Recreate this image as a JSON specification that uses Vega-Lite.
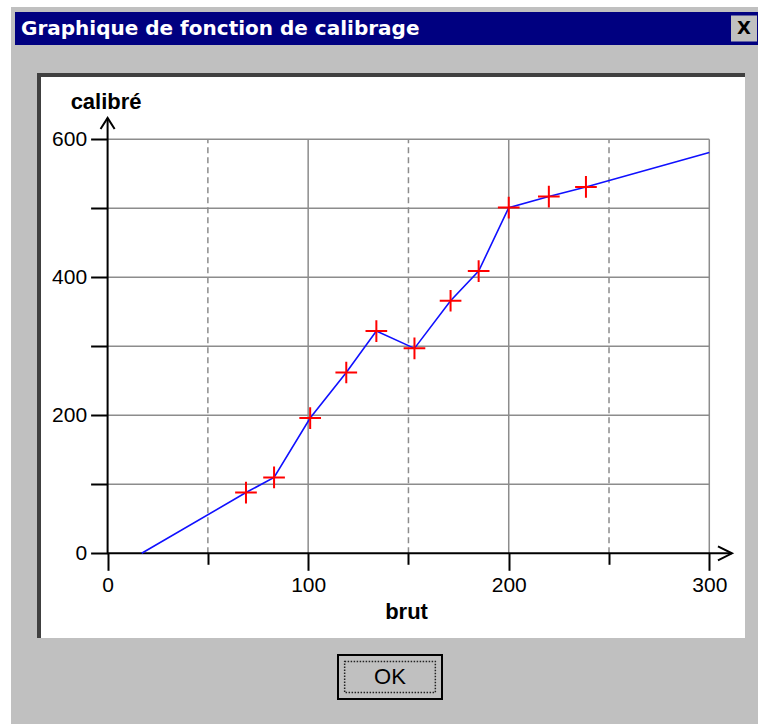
{
  "$schema": "https://vega.github.io/schema/vega-lite/v6.json",
  "padding": 0,
  "background": "#c0c0c0",
  "spacing": 0,
  "config": {"view": {"stroke": null}, "concat": {"spacing": 0}, "font": "Liberation Sans"},
  "datasets": {
    "calib": [
      {"brut": 17, "calibre": 0, "kind": "end"},
      {"brut": 69, "calibre": 88, "kind": "point"},
      {"brut": 83, "calibre": 110, "kind": "point"},
      {"brut": 101, "calibre": 196, "kind": "point"},
      {"brut": 119, "calibre": 262, "kind": "point"},
      {"brut": 134, "calibre": 322, "kind": "point"},
      {"brut": 153, "calibre": 297, "kind": "point"},
      {"brut": 171, "calibre": 366, "kind": "point"},
      {"brut": 185, "calibre": 409, "kind": "point"},
      {"brut": 200, "calibre": 501, "kind": "point"},
      {"brut": 220, "calibre": 517, "kind": "point"},
      {"brut": 238.5, "calibre": 531, "kind": "point"},
      {"brut": 300, "calibre": 581, "kind": "end"}
    ],
    "hgrid": [{"v": 100}, {"v": 200}, {"v": 300}, {"v": 400}, {"v": 500}, {"v": 600}],
    "vgridMajor": [{"v": 100}, {"v": 200}, {"v": 300}],
    "vgridMinor": [{"v": 50}, {"v": 150}, {"v": 250}],
    "one": [{"k": 1}]
  },
  "hconcat": [
    {"width": 11, "height": 724, "view": {"fill": "white"}, "data": {"values": []}, "mark": "point", "encoding": {}},
    {
      "spacing": 5,
      "vconcat": [
        {"width": 747, "height": 7, "view": {"fill": "white"}, "data": {"values": []}, "mark": "point", "encoding": {}},
        {
          "spacing": 0,
          "hconcat": [
            {"width": 4, "height": 1, "data": {"values": []}, "mark": "point", "encoding": {}},
            {
              "spacing": 28,
              "vconcat": [
                {
                  "spacing": 0,
                  "hconcat": [
                    {
                      "width": 715, "height": 33,
                      "view": {"fill": "#000080"},
                      "data": {"values": [{"label": "Graphique de fonction de calibrage"}]},
                      "mark": {"type": "text", "align": "left", "baseline": "middle", "dx": 6, "color": "white", "font": "DejaVu Sans", "fontSize": 20, "fontWeight": "bold"},
                      "encoding": {
                        "text": {"field": "label"},
                        "x": {"datum": 0, "type": "quantitative", "scale": {"domain": [0, 1]}, "axis": null}
                      }
                    },
                    {
                      "width": 28, "height": 33,
                      "view": {"fill": "#000080"},
                      "data": {"values": [{"label": "X"}]},
                      "layer": [
                        {"mark": {"type": "point", "shape": "square", "size": 676, "filled": true, "color": "#c0c0c0", "opacity": 1}, "encoding": {}},
                        {"mark": {"type": "text", "font": "DejaVu Sans", "fontSize": 18, "fontWeight": "bold", "color": "black", "baseline": "middle", "align": "center"}, "encoding": {"text": {"field": "label"}}}
                      ]
                    }
                  ]
                },
                {
                  "spacing": 14,
                  "vconcat": [
                    {
                      "spacing": 0,
                      "hconcat": [
                        {"width": 22, "height": 1, "data": {"values": []}, "mark": "point", "encoding": {}},
                        {
                          "width": 706, "height": 563,
                          "view": {"fill": "white", "stroke": "#404040", "strokeWidth": 4, "strokeDash": [706, 1269, 563]},
                          "resolve": {"axis": {"x": "independent", "y": "independent"}},
                          "layer": [
                            {
                              "data": {"name": "hgrid"},
                              "mark": {"type": "rule", "color": "#8c8c8c", "strokeWidth": 1.5},
                              "encoding": {
                                "y": {"field": "v", "type": "quantitative", "scale": {"domain": [-122.8, 693.2], "nice": false, "zero": false}, "axis": null},
                                "x": {"datum": 0, "type": "quantitative", "scale": {"domain": [-34.2, 317.8], "nice": false, "zero": false}, "axis": null},
                                "x2": {"datum": 300}
                              }
                            },
                            {
                              "data": {"name": "vgridMajor"},
                              "mark": {"type": "rule", "color": "#8c8c8c", "strokeWidth": 1.5},
                              "encoding": {
                                "x": {"field": "v", "type": "quantitative", "scale": {"domain": [-34.2, 317.8], "nice": false, "zero": false}, "axis": null},
                                "y": {"datum": 0, "type": "quantitative", "scale": {"domain": [-122.8, 693.2], "nice": false, "zero": false}, "axis": null},
                                "y2": {"datum": 600}
                              }
                            },
                            {
                              "data": {"name": "vgridMinor"},
                              "mark": {"type": "rule", "color": "#8c8c8c", "strokeWidth": 1.5, "strokeDash": [6, 4]},
                              "encoding": {
                                "x": {"field": "v", "type": "quantitative", "scale": {"domain": [-34.2, 317.8], "nice": false, "zero": false}, "axis": null},
                                "y": {"datum": 0, "type": "quantitative", "scale": {"domain": [-122.8, 693.2], "nice": false, "zero": false}, "axis": null},
                                "y2": {"datum": 600}
                              }
                            },
                            {
                              "data": {"name": "one"},
                              "mark": {"type": "rule", "color": "black", "strokeWidth": 2},
                              "encoding": {
                                "x": {"datum": 0, "type": "quantitative", "scale": {"domain": [-34.2, 317.8], "nice": false, "zero": false}, "axis": null},
                                "x2": {"datum": 311.3},
                                "y": {"datum": 0, "type": "quantitative", "scale": {"domain": [-122.8, 693.2], "nice": false, "zero": false}, "axis": null}
                              }
                            },
                            {
                              "data": {"name": "one"},
                              "mark": {"type": "rule", "color": "black", "strokeWidth": 2},
                              "encoding": {
                                "x": {"datum": 0, "type": "quantitative", "scale": {"domain": [-34.2, 317.8], "nice": false, "zero": false}, "axis": null},
                                "y": {"datum": 0, "type": "quantitative", "scale": {"domain": [-122.8, 693.2], "nice": false, "zero": false}, "axis": null},
                                "y2": {"datum": 631}
                              }
                            },
                            {
                              "data": {"name": "one"},
                              "mark": {"type": "point", "shape": "M-0.64,1L0,0L0.64,1", "size": 484, "filled": false, "color": "black", "strokeWidth": 2, "opacity": 1},
                              "encoding": {
                                "x": {"datum": 0, "type": "quantitative", "scale": {"domain": [-34.2, 317.8], "nice": false, "zero": false}, "axis": null},
                                "y": {"datum": 631, "type": "quantitative", "scale": {"domain": [-122.8, 693.2], "nice": false, "zero": false}, "axis": null}
                              }
                            },
                            {
                              "data": {"name": "one"},
                              "mark": {"type": "point", "shape": "M-1,-0.5L0,0L-1,0.5", "size": 784, "filled": false, "color": "black", "strokeWidth": 2, "opacity": 1},
                              "encoding": {
                                "x": {"datum": 311.3, "type": "quantitative", "scale": {"domain": [-34.2, 317.8], "nice": false, "zero": false}, "axis": null},
                                "y": {"datum": 0, "type": "quantitative", "scale": {"domain": [-122.8, 693.2], "nice": false, "zero": false}, "axis": null}
                              }
                            },
                            {
                              "data": {"name": "calib"},
                              "mark": {"type": "line", "color": "#1010ff", "strokeWidth": 1.6},
                              "encoding": {
                                "x": {
                                  "field": "brut", "type": "quantitative",
                                  "scale": {"domain": [-34.2, 317.8], "nice": false, "zero": false},
                                  "axis": {
                                    "orient": "bottom", "offset": -84.7,
                                    "values": [0, 50, 100, 150, 200, 250, 300],
                                    "domain": false, "grid": false, "ticks": true,
                                    "tickColor": "black", "tickWidth": 2,
                                    "tickSize": {"condition": {"test": "datum.value % 100 === 0", "value": 17}, "value": 11},
                                    "labelExpr": "datum.value % 100 === 0 ? datum.label : ''",
                                    "labelFont": "Liberation Sans", "labelFontSize": 21, "labelColor": "black",
                                    "labelPadding": 4, "labelFlush": false, "labelOverlap": false, "labelBound": false,
                                    "title": "brut", "titleFont": "Liberation Sans", "titleFontSize": 22, "titleFontWeight": "bold", "titleColor": "black",
                                    "titleX": 367, "titleY": 65, "titleBaseline": "alphabetic", "titleAlign": "center"
                                  }
                                },
                                "y": {
                                  "field": "calibre", "type": "quantitative",
                                  "scale": {"domain": [-122.8, 693.2], "nice": false, "zero": false},
                                  "axis": {
                                    "orient": "left", "offset": -68.6,
                                    "values": [0, 100, 200, 300, 400, 500, 600],
                                    "domain": false, "grid": false, "ticks": true,
                                    "tickColor": "black", "tickWidth": 2, "tickSize": 17,
                                    "labelExpr": "datum.value % 200 === 0 ? datum.label : ''",
                                    "labelFont": "Liberation Sans", "labelFontSize": 21, "labelColor": "black",
                                    "labelPadding": 4, "labelFlush": false, "labelOverlap": false, "labelBound": false,
                                    "title": "calibré", "titleFont": "Liberation Sans", "titleFontSize": 22, "titleFontWeight": "bold", "titleColor": "black",
                                    "titleAngle": 0, "titleX": -2, "titleY": 33, "titleBaseline": "alphabetic", "titleAlign": "center"
                                  }
                                },
                                "order": {"field": "brut", "type": "quantitative"}
                              }
                            },
                            {
                              "data": {"name": "calib"},
                              "transform": [{"filter": "datum.kind === 'point'"}],
                              "mark": {"type": "point", "shape": "M-1,0L1,0M0,-1L0,1", "size": 470, "filled": false, "color": "#ff0000", "strokeWidth": 2, "opacity": 1},
                              "encoding": {
                                "x": {"field": "brut", "type": "quantitative", "scale": {"domain": [-34.2, 317.8], "nice": false, "zero": false}, "axis": null},
                                "y": {"field": "calibre", "type": "quantitative", "scale": {"domain": [-122.8, 693.2], "nice": false, "zero": false}, "axis": null}
                              }
                            }
                          ]
                        }
                      ]
                    },
                    {
                      "spacing": 0,
                      "hconcat": [
                        {"width": 322, "height": 1, "data": {"values": []}, "mark": "point", "encoding": {}},
                        {
                          "width": 104, "height": 44,
                          "view": {"fill": "#c0c0c0", "stroke": "black", "strokeWidth": 2},
                          "data": {"values": [{"label": "OK"}]},
                          "layer": [
                            {"mark": {"type": "point", "shape": "M-1,-0.342L1,-0.342L1,0.342L-1,0.342Z", "size": 8226, "filled": false, "color": "#222222", "strokeWidth": 1.5, "strokeDash": [1.5, 1.5], "opacity": 1}, "encoding": {}},
                            {"mark": {"type": "text", "font": "Liberation Sans", "fontSize": 22, "color": "black", "baseline": "middle", "align": "center"}, "encoding": {"text": {"field": "label"}}}
                          ]
                        }
                      ]
                    }
                  ]
                }
              ]
            }
          ]
        }
      ]
    }
  ]
}
